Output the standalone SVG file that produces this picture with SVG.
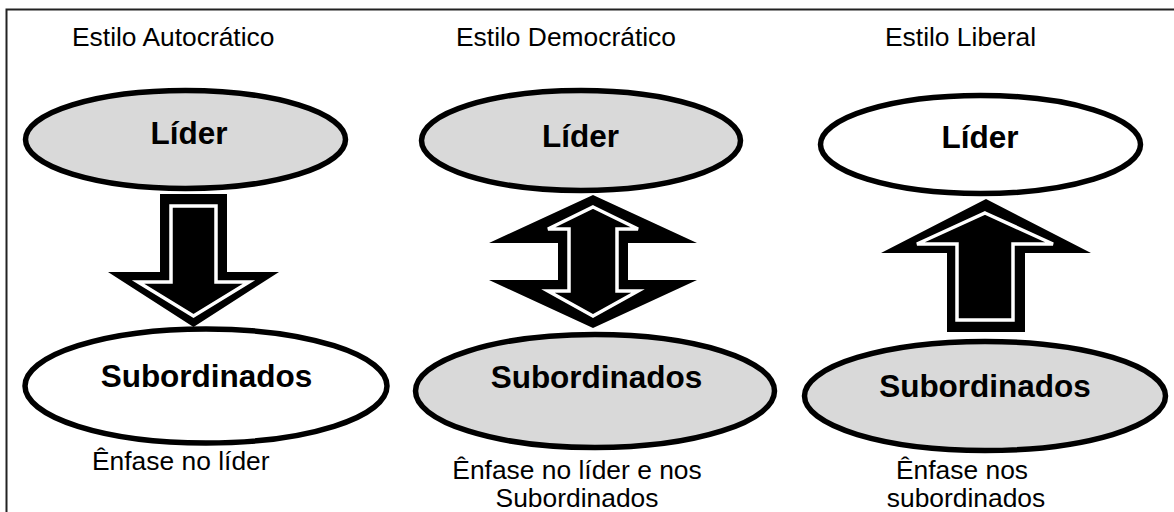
<svg xmlns="http://www.w3.org/2000/svg" width="1174" height="512" viewBox="0 0 1174 512">
<style>
.lbl{font-family:"Liberation Sans",Arial,sans-serif;font-size:26.4px;fill:#000}
.nt{font-family:"Liberation Sans",Arial,sans-serif;font-size:31.5px;font-weight:bold;fill:#000;text-anchor:middle}
.ell{stroke:#000;stroke-width:5.5}
.g{fill:#d9d9d9}
.w{fill:#fff}
.ao{fill:#000}
.ai{fill:#000;stroke:#fff;stroke-width:3.5;stroke-linejoin:miter}
</style>
<rect width="1174" height="512" fill="#fff"/>
<path d="M6.5,512 V9.5 H1174" fill="none" stroke="#222" stroke-width="2"/>
<g id="titles">
<text class="lbl" x="72" y="45.5">Estilo Autocrático</text>
<text class="lbl" x="456" y="45.5">Estilo Democrático</text>
<text class="lbl" x="885" y="45.5">Estilo Liberal</text>
</g>
<g id="connectors">
<g id="arrow-autocratico">
<path class="ao" d="M160,194 H227 V272 H279 L193.5,327 L108,272 H160 Z"/>
<path class="ai" d="M171,206 H216 V282 H249 L193.5,316 L138,282 H171 Z"/>
</g>
<g id="arrow-democratico">
<path class="ao" d="M593,195 L697,243 H628 V280 H697 L593,328 L489,280 H558 V243 H489 Z"/>
<path class="ai" d="M593,207 L638,229 H617 V291 H638 L593,316 L548,291 H569 V229 H548 Z"/>
</g>
<g id="arrow-liberal">
<path class="ao" d="M986,199 L1091,253 H1025 V332 H947 V253 H881 Z"/>
<path class="ai" d="M985,213 L1053,244 H1013 V320 H957 V244 H917 Z"/>
</g>
</g>
<g id="lider-autocratico">
<ellipse class="ell g" cx="185.5" cy="139.5" rx="160" ry="49"/>
<text class="nt" x="189" y="144">Líder</text>
</g>
<g id="lider-democratico">
<ellipse class="ell g" cx="581" cy="140.5" rx="159.5" ry="50"/>
<text class="nt" x="580.5" y="146.5">Líder</text>
</g>
<g id="lider-liberal">
<ellipse class="ell w" cx="980.5" cy="144.5" rx="160" ry="49"/>
<text class="nt" x="980" y="148">Líder</text>
</g>
<g id="subordinados-autocratico">
<ellipse class="ell w" cx="206" cy="386" rx="181" ry="57"/>
<text class="nt" x="206.5" y="387">Subordinados</text>
</g>
<g id="subordinados-democratico">
<ellipse class="ell g" cx="595" cy="391" rx="179.5" ry="56.5"/>
<text class="nt" x="596.5" y="388">Subordinados</text>
</g>
<g id="subordinados-liberal">
<ellipse class="ell g" cx="985" cy="396" rx="180.5" ry="54.5"/>
<text class="nt" x="985" y="396.5">Subordinados</text>
</g>
<g id="notes">
<text class="lbl" x="92" y="470">Ênfase no líder</text>
<text class="lbl" x="577" y="479" text-anchor="middle">Ênfase no líder e nos</text>
<text class="lbl" x="577" y="507" text-anchor="middle">Subordinados</text>
<text class="lbl" x="962" y="479" text-anchor="middle">Ênfase nos</text>
<text class="lbl" x="966" y="507" text-anchor="middle">subordinados</text>
</g>
</svg>
